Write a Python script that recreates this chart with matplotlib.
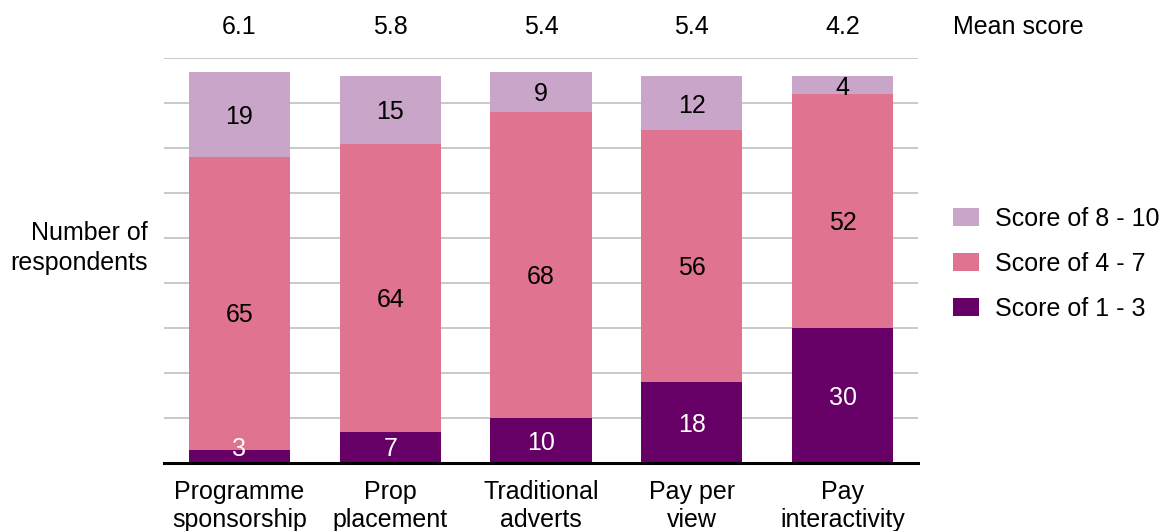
import matplotlib.pyplot as plt
import numpy as np

plt.rcParams['font.family'] = ['Liberation Sans', 'DejaVu Sans']

# survey results per advertising type
categories = ['Programme\nsponsorship', 'Prop\nplacement', 'Traditional\nadverts',
              'Pay per\nview', 'Pay\ninteractivity']
low = [3, 7, 10, 18, 30]       # score 1 - 3
mid = [65, 64, 68, 56, 52]     # score 4 - 7
high = [19, 15, 9, 12, 4]      # score 8 - 10
mean_score = ['6.1', '5.8', '5.4', '5.4', '4.2']

c_low = '#660066'
c_mid = '#E0738F'
c_high = '#C9A5C9'
fs = 18

fig = plt.figure(figsize=(11.64, 5.31), dpi=100)
ax = fig.add_axes([164/1164, 68/531, 754/1164, 405/531])

x = np.arange(len(categories))
w = 0.67
low = np.array(low)
mid = np.array(mid)
high = np.array(high)

ax.bar(x, low, w, color=c_low, label='Score of 1 - 3', zorder=2)
ax.bar(x, mid, w, bottom=low, color=c_mid, label='Score of 4 - 7', zorder=2)
ax.bar(x, high, w, bottom=low + mid, color=c_high, label='Score of 8 - 10', zorder=2)

dy = 0.6  # nudge so the digits sit visually centred
for i in range(len(x)):
    ax.text(x[i], max(low[i] / 2, 3.6) - dy, str(low[i]), ha='center', va='center',
            color='white', fontsize=fs, zorder=3)
    ax.text(x[i], low[i] + mid[i] / 2 - 2.1 - dy, str(mid[i]), ha='center', va='center',
            color='black', fontsize=fs, zorder=3)
    ax.text(x[i], low[i] + mid[i] + high[i] / 2 - dy, str(high[i]), ha='center',
            va='center', color='black', fontsize=fs, zorder=3)
    ax.text(x[i], 96.8, mean_score[i], ha='center', va='center', fontsize=fs)

ax.text(4.73, 96.8, 'Mean score', ha='left', va='center', fontsize=fs)

ax.set_xlim(-0.5, 4.5)
ax.set_ylim(0, 90)
ax.set_yticks(np.arange(0, 91, 10))
ax.set_yticklabels([])
ax.tick_params(axis='y', length=0)
ax.tick_params(axis='x', length=0, pad=12.5)
ax.yaxis.grid(True, color='#c0c0c0', linewidth=1.2, zorder=0)
ax.set_axisbelow(True)
ax.set_xticks(x)
ax.set_xticklabels(categories, fontsize=fs, linespacing=1.18)
for s in ['top', 'right', 'left']:
    ax.spines[s].set_visible(False)
ax.spines['bottom'].set_linewidth(2.2)
ax.spines['bottom'].set_zorder(4)

fig.text(148/1164, 1 - 248/531, 'Number of\nrespondents', ha='right', va='center',
         fontsize=fs, linespacing=1.3)

handles, labels = ax.get_legend_handles_labels()
fig.legend(handles[::-1], labels[::-1], loc='center left',
           bbox_to_anchor=(953/1164, 1 - 264/531),
           frameon=False, fontsize=fs, handlelength=1.05, handleheight=0.72,
           handletextpad=0.62, labelspacing=0.84, borderpad=0, borderaxespad=0)

fig.savefig('out.png', dpi=100)
